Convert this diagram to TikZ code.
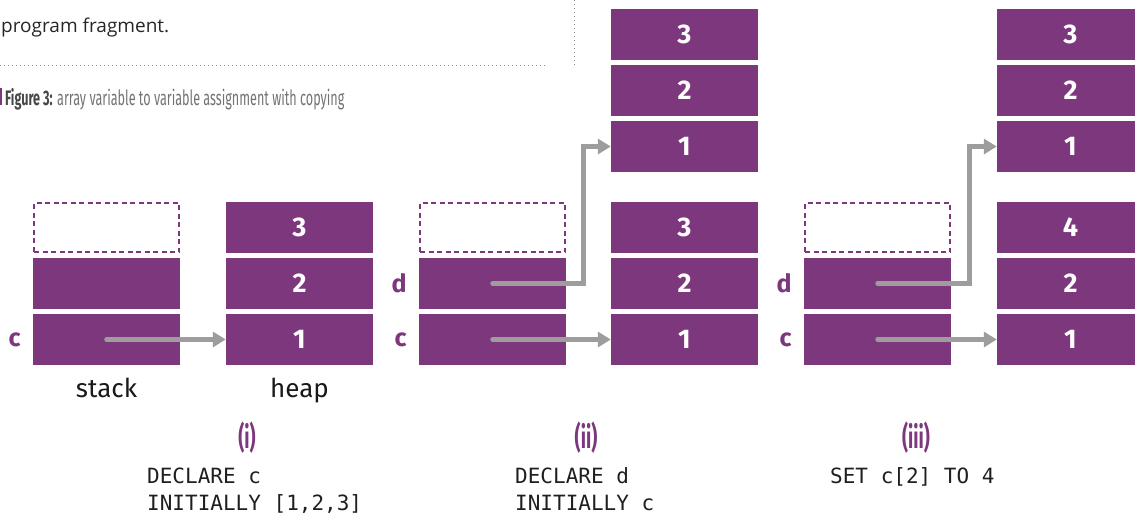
\documentclass[tikz,border=0pt]{standalone}
\usepackage{fontspec}
\setmainfont{Fira Sans}
\newfontfamily\condfont[FakeStretch=0.6]{Fira Sans}
\newfontfamily\codefont{DejaVu Sans Mono}
\newfontfamily\bodyfont{Open Sans}
\usepackage{xcolor}
\usetikzlibrary{arrows.meta,positioning,calc}
\definecolor{vpurple}{HTML}{7D377D}
\definecolor{vgray}{HTML}{9E9C9C}

\begin{document}
\begin{tikzpicture}[x=1pt,y=-1pt]
  \tikzset{
    cell/.style={fill=vpurple, minimum width=147pt, minimum height=51pt, inner sep=0pt, text=white, font=\bfseries\fontsize{27}{27}\selectfont},
    free/.style={draw=vpurple, dash pattern=on 5pt off 3.5pt, line width=2.2pt, minimum width=145pt, minimum height=49pt, inner sep=0pt},
    ptr/.style={vgray, line width=4.5pt, line cap=round, -{Triangle[length=13pt,width=15pt]}},
    var/.style={text=vpurple, inner sep=0pt, font=\bfseries\fontsize{25}{25}\selectfont},
    area/.style={anchor=base, inner sep=0pt, text=black!90, font=\fontsize{26}{26}\selectfont},
    panel/.style={text=vpurple, inner sep=0pt, font=\condfont\bfseries\fontsize{31}{31}\selectfont},
    code/.style={anchor=base west, inner sep=0pt, text=black!88, font=\codefont\fontsize{21}{21}\selectfont},
    rule/.style={black!45, line width=1pt, dash pattern=on 1pt off 3pt}
  }
  \useasboundingbox (0,0) rectangle (1135,515);
  \clip (0,0) rectangle (1135,515);

  % column centres (stack / heap of each panel) and row centres
  \def\sA{106.5}\def\hA{299.5}
  \def\sB{492.5}\def\hB{684.5}
  \def\sC{877.5}\def\hC{1070.5}
  \def\yT{227.5}\def\yM{283.5}\def\yB{339.5}

  % page fragments round the figure
  \node[anchor=base west, inner sep=0pt, text=black!85, font=\bodyfont\fontsize{19}{19}\selectfont] (frag) at (1,32) {program fragment.};
  \draw[rule] (0,65) -- (548,65);
  \draw[rule] (574,0) -- (574,65);
  \fill[vpurple] (0,88) rectangle (2,105);
  \node[anchor=base west, inner sep=0pt, text=black!55, font=\condfont\fontsize{21}{21}\selectfont] (caption) at (5,105)
    {\textbf{\color{black!72}Figure 3:} array variable to variable assignment with copying};

  % ================= PANEL (i) =================
  \node[free] (freeA) at (\sA,\yT) {};
  \node[cell] (spareA) at (\sA,\yM) {};
  \node[cell] (cA) at (\sA,\yB) {};
  \node[cell] (a3) at (\hA,\yT) {3};
  \node[cell] (a2) at (\hA,\yM) {2};
  \node[cell] (a1) at (\hA,\yB) {1};
  \node[var, left=12pt of cA] (cAname) {c};
  \draw[ptr] (cA.center) -- (a1.west);

  \node[area] (stack) at (\sA,397) {stack};
  \node[area] (heap) at (\hA,397) {heap};
  \node[panel] (pi) at (247,438) {(i)};
  \node[code] (codeA1) at (147,483) {DECLARE c};
  \node[code] (codeA2) at (147,510) {INITIALLY [1,2,3]};

  % ================= PANEL (ii) =================
  \node[free] (freeB) at (\sB,\yT) {};
  \node[cell] (dB) at (\sB,\yM) {};
  \node[cell] (cB) at (\sB,\yB) {};
  \node[cell] (b3) at (\hB,\yT) {3};
  \node[cell] (b2) at (\hB,\yM) {2};
  \node[cell] (b1) at (\hB,\yB) {1};
  \node[cell] (u3) at (\hB,34.5) {3};
  \node[cell] (u2) at (\hB,90.5) {2};
  \node[cell] (u1) at (\hB,146.5) {1};
  \node[var, left=12pt of dB] (dBname) {d};
  \node[var, left=12pt of cB] (cBname) {c};
  \draw[ptr] (cB.center) -- (b1.west);
  \draw[ptr] (dB.center) -- ++(91,0) |- (u1.west);

  \node[panel] (pii) at (586,438) {(ii)};
  \node[code] (codeB1) at (515,483) {DECLARE d};
  \node[code] (codeB2) at (515,510) {INITIALLY c};

  % ================= PANEL (iii) =================
  \node[free] (freeC) at (\sC,\yT) {};
  \node[cell] (dC) at (\sC,\yM) {};
  \node[cell] (cC) at (\sC,\yB) {};
  \node[cell] (c3) at (\hC,\yT) {4};
  \node[cell] (c2) at (\hC,\yM) {2};
  \node[cell] (c1) at (\hC,\yB) {1};
  \node[cell] (v3) at (\hC,34.5) {3};
  \node[cell] (v2) at (\hC,90.5) {2};
  \node[cell] (v1) at (\hC,146.5) {1};
  \node[var, left=12pt of dC] (dCname) {d};
  \node[var, left=12pt of cC] (cCname) {c};
  \draw[ptr] (cC.center) -- (c1.west);
  \draw[ptr] (dC.center) -- ++(92,0) |- (v1.west);

  \node[panel] (piii) at (916,438) {(iii)};
  \node[code] (codeC1) at (830,483) {SET c[2] TO 4};

\end{tikzpicture}
\end{document}
